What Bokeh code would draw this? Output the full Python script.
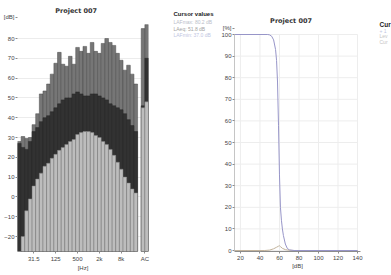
from bokeh.plotting import figure
from bokeh.layouts import row
from bokeh.models import Label, FixedTicker, Range1d
from bokeh.embed import file_html
from bokeh.resources import INLINE

# ---------------- data: left chart (1/3-octave spectrum) ----------------
bands = ["12.5", "16", "20", "25", "31.5", "40", "50", "63", "80", "100", "125",
         "160", "200", "250", "315", "400", "500", "630", "800", "1k", "1.25k",
         "1.6k", "2k", "2.5k", "3.15k", "4k", "5k", "6.3k", "8k", "10k", "12.5k",
         "16k", "20k"]
lmax = [28, 30.5, 29.5, 30, 36.5, 42, 52, 53.5, 57, 62, 67.5, 73, 67, 66, 71, 67,
        75.5, 73.5, 76, 72.5, 78, 73.5, 72.5, 77.5, 80, 78, 76.5, 72.5, 69, 64,
        66.5, 62, 57]
leq = [27, 25, 24, 28, 33, 35, 38, 40, 41, 43, 45, 47, 49, 50, 50, 52, 53, 52, 51,
       51, 52, 52, 51, 50, 49, 47, 46, 45, 44, 42, 39, 36, 33]
lmin = [-30, -20, -7, -1, 5.5, 9, 12, 15.5, 17, 19.5, 21.5, 23.5, 25, 26.5, 28, 29,
        31.5, 32.5, 33, 33, 32.5, 31, 30, 28, 26.5, 24, 21, 17.5, 14, 10, 7, 4, 2]
ac_names = ["A", "C"]
ac_lmax = [85, 87]
ac_leq = [46, 70]
ac_lmin = [45, 48]
spectrum_tick_labels = ["31.5", "125", "500", "2k", "8k"]
ac_tick_label = "AC"
y1_ticks = [-20, -10, 0, 10, 20, 30, 40, 50, 60, 70, 80]

# ---------------- data: right chart (level statistics) ----------------
cum_db = [14, 48, 50, 52, 54, 56, 57, 58, 59, 60, 61, 62, 63, 64, 66, 68, 70, 75, 140]
cum_pct = [100, 100, 99.8, 99.2, 97.5, 93, 88, 78, 58, 35, 20, 14, 10, 7, 3, 1, 0.3, 0, 0]
dist_db = [14, 45, 50, 54, 57, 59, 60, 61, 63, 66, 70, 75, 140]
dist_pct = [0, 0, 0.2, 0.8, 1.5, 2.0, 2.2, 1.8, 1.0, 0.4, 0.1, 0, 0]
x2_ticks = [20, 40, 60, 80, 100, 120, 140]
y2_ticks = [0, 10, 20, 30, 40, 50, 60, 70, 80, 90, 100]

chart_title = "Project 007"
cursor_title = "Cursor values"
cursor_lines = ["LAFmax: 80.2 dB", "LAeq: 51.8 dB", "LAFmin: 37.0 dB"]
right_title = "Cur"
right_lines = ["+ 1", "Lev", "Cur"]

FONT = "DejaVu Sans"
NARROW = "Liberation Sans"
H = 275
FT, FB = 2, 251            # common frame top / bottom (page px) for the row
BT, BB = FT, H - FB


def mapper(pa, pb, va, vb):
    # page pixel -> data value, given two calibration points
    return lambda px: va + (px - pa) * (vb - va) / (pb - pa)


def style_axes(p, line_col):
    for ax in (p.xaxis[0], p.yaxis[0]):
        ax.major_label_text_font = NARROW
        ax.major_label_text_font_size = "6px"
        ax.major_label_text_color = "#444444"
        ax.major_tick_out = 2
        ax.major_tick_in = 0
        ax.minor_tick_out = 0
        ax.minor_tick_in = 0
        ax.axis_line_color = line_col
        ax.major_tick_line_color = "#8c8c8c"
        ax.axis_label_text_font = NARROW
        ax.axis_label_text_font_size = "6px"
        ax.axis_label_text_font_style = "normal"
        ax.axis_label_text_color = "#444444"
    p.xaxis.major_label_standoff = 2
    p.xaxis.axis_label_standoff = 0
    p.yaxis.major_label_standoff = 1


def put(p, x, y, text, size, color, bold=False, align="left", font=NARROW):
    p.add_layout(Label(x=x, y=y, text=text, text_font=font, text_font_size=size,
                       text_color=color, text_font_style="bold" if bold else "normal",
                       text_align=align, text_baseline="middle"))


# ---------------- left figure (page x 0..150) ----------------
W1, B1L, B1R = 150, 14, 2
F1L, F1R = B1L, W1 - B1R
X1 = (-0.5, 35.5)
y1 = mapper(38, 236, 80, -20)           # 80 dB at y=38, -20 dB at y=236
Y1 = (y1(FB), y1(FT))
x1 = mapper(F1L, F1R, X1[0], X1[1])

p1 = figure(width=W1, height=H, x_range=Range1d(*X1), y_range=Range1d(*Y1),
            title=None, output_backend="svg", toolbar_location=None,
            min_border_left=B1L, min_border_right=B1R,
            min_border_top=BT, min_border_bottom=BB)
p1.outline_line_color = None
p1.border_fill_color = "white"

idx = list(range(len(bands)))
ac_idx = [len(bands) + 1 + i for i in range(len(ac_names))]
base = -40

for xs, tops in ((idx, lmax), (ac_idx, ac_lmax)):
    p1.vbar(x=xs, top=tops, bottom=base, width=1.0, fill_color="#767676",
            line_color="#4a4a4a", line_width=0.5)
for xs, tops in ((idx, leq), (ac_idx, ac_leq)):
    p1.vbar(x=xs, top=tops, bottom=base, width=1.0, fill_color="#323232",
            line_color="#262626", line_width=0.5)
for xs, tops in ((idx, lmin), (ac_idx, ac_lmin)):
    p1.vbar(x=xs, top=tops, bottom=base, width=1.0, fill_color="#bdbdbd",
            line_color="#7e7e7e", line_width=0.5)

tick_pos = [bands.index(t) for t in spectrum_tick_labels]
ac_pos = sum(ac_idx) / len(ac_idx)
overrides = {pos: lab for pos, lab in zip(tick_pos, spectrum_tick_labels)}
overrides[ac_pos] = ac_tick_label
p1.xaxis.ticker = FixedTicker(ticks=tick_pos + [ac_pos])
p1.xaxis.major_label_overrides = overrides
p1.xaxis.axis_label = "[Hz]"
db_unit_pos = round(y1(17), 2)          # unit label sits above the 80 tick
p1.yaxis.ticker = FixedTicker(ticks=y1_ticks + [db_unit_pos])
p1.yaxis.major_label_overrides = {db_unit_pos: "[dB]"}
style_axes(p1, None)
p1.xgrid.visible = False
p1.ygrid.ticker = FixedTicker(ticks=y1_ticks)
p1.ygrid.grid_line_color = "#ececec"
put(p1, x1(74), y1(10), chart_title, "6.5px", "#333333", bold=True, align="center",
    font=FONT)


# ---------------- text-only panels ----------------
def text_panel(width, page_left):
    p = figure(width=width, height=H, x_range=Range1d(page_left, page_left + width),
               y_range=Range1d(FB, FT), x_axis_type=None, y_axis_type=None,
               title=None, output_backend="svg", toolbar_location=None,
               min_border_left=0, min_border_right=0,
               min_border_top=BT, min_border_bottom=BB)
    p.outline_line_color = None
    p.xgrid.visible = False
    p.ygrid.visible = False
    p.border_fill_color = "white"
    return p


WM = 68
pm = text_panel(WM, W1)                    # page x 150..218
put(pm, 173, 13, cursor_title, "6px", "#222222", bold=True)
for t, c, yy in zip(cursor_lines, ["#b9bdc9", "#a2a2a2", "#c0c5e2"], [21, 28, 34]):
    put(pm, 173, yy, t, "5px", c)

# ---------------- right figure (page x 218..368) ----------------
P2X = W1 + WM
W2, B2L, B2R = 150, 15, 8
F2L, F2R = P2X + B2L, P2X + W2 - B2R
x2 = mapper(239, 357, 20, 140)          # 20 dB at x=239, 140 dB at x=357
y2 = mapper(34, 250, 100, 0)            # 100 % at y=34, 0 % at y=250
X2 = (x2(F2L), x2(F2R))
Y2 = (y2(FB), y2(FT))

p2 = figure(width=W2, height=H, x_range=Range1d(*X2), y_range=Range1d(*Y2),
            title=None, output_backend="svg", toolbar_location=None,
            min_border_left=B2L, min_border_right=B2R,
            min_border_top=BT, min_border_bottom=BB)
p2.outline_line_color = None
p2.border_fill_color = "white"
p2.xgrid.visible = False
p2.ygrid.visible = False
# grid and value axis limited to the 0..100 % area
p2.segment(x0=[X2[0]] * len(y2_ticks), x1=[max(x2_ticks)] * len(y2_ticks),
           y0=y2_ticks, y1=y2_ticks, line_color="#ededed", line_width=1)
p2.segment(x0=x2_ticks, x1=x2_ticks, y0=[min(y2_ticks)] * len(x2_ticks),
           y1=[max(y2_ticks)] * len(x2_ticks), line_color="#ededed", line_width=1)
p2.segment(x0=[X2[0]], x1=[X2[0]], y0=[min(y2_ticks)], y1=[max(y2_ticks)],
           line_color="#8c8c8c", line_width=1)
p2.line(dist_db, dist_pct, line_color="#c2b39c", line_width=1)
p2.line(cum_db, cum_pct, line_color="#9795c8", line_width=1)
p2.xaxis.ticker = FixedTicker(ticks=x2_ticks)
pct_unit_pos = round(y2(28), 2)
p2.yaxis.ticker = FixedTicker(ticks=y2_ticks + [pct_unit_pos])
p2.yaxis.major_label_overrides = {pct_unit_pos: "[%]"}
p2.xaxis.axis_label = "[dB]"
style_axes(p2, "#8c8c8c")
p2.yaxis.axis_line_color = None
put(p2, x2(290), y2(20), chart_title, "6.5px", "#333333", bold=True, align="center",
    font=FONT)

# ---------------- right text panel (page x 368..391) ----------------
WR = 391 - (P2X + W2)
pr = text_panel(WR, P2X + W2)
put(pr, 379, 24, right_title, "6.5px", "#222222", bold=True)
for t, c, yy in zip(right_lines, ["#c0c5e2", "#c4c4c4", "#c4c4c4"], [30, 35, 41]):
    put(pr, 379, yy, t, "5px", c)

layout = row(p1, pm, p2, pr, spacing=0)
open("out.html", "w").write(file_html(layout, INLINE))
